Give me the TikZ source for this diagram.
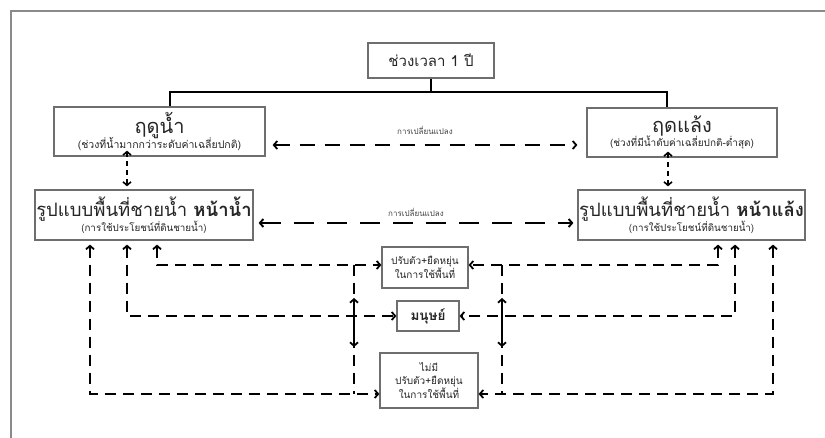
\documentclass[tikz,border=0pt]{standalone}
\usepackage{fontspec}
\newfontfamily\thai[Script=Thai]{Loma}
\usetikzlibrary{arrows.meta}
\definecolor{boxgray}{HTML}{6E6E6E}
\definecolor{framegray}{HTML}{8A8A8A}
\tikzset{
  box/.style={draw=boxgray,line width=1.2pt,fill=white,inner sep=0pt,align=center,font=\thai,text=black!85},
  tip/.style={-{Straight Barb[length=3.5pt,width=8pt]}},
  dtip/.style={{Straight Barb[length=3.5pt,width=8pt]}-{Straight Barb[length=3.5pt,width=8pt]}},
  lower/.style={line width=1.8pt,dash pattern=on 11pt off 7pt},
  season/.style={line width=1.8pt,dash pattern=on 15pt off 10pt},
  mainline/.style={line width=1.9pt,dash pattern=on 20pt off 13pt},
  short/.style={line width=1.6pt,dash pattern=on 5pt off 4pt},
  lbl/.style={font=\thai\fontsize{8}{9}\selectfont,text=black!75,inner sep=0pt}
}
\begin{document}
\begin{tikzpicture}[x=1pt,y=-1pt]
\useasboundingbox (0,0) rectangle (825,438);
% frame
\draw[framegray,line width=2pt] (11,438) -- (11,11) -- (825,11);
% nodes
\node[box,minimum width=126pt,minimum height=35pt,font=\thai\fontsize{15}{17}\selectfont] (top) at (431,60.5) {ช่วงเวลา 1 ปี};
\node[box,minimum width=211pt,minimum height=49pt] (wet) at (159.5,131.5)
  {{\fontsize{20}{20}\selectfont ฤดูน้ำ}\\[-2pt]{\fontsize{10.5}{11}\selectfont (ช่วงที่น้ำมากกว่าระดับค่าเฉลี่ยปกติ)}};
\node[box,minimum width=190pt,minimum height=49pt] (dry) at (682,132.5)
  {{\fontsize{20}{20}\selectfont ฤดแล้ง}\\[-2pt]{\fontsize{10}{11}\selectfont (ช่วงที่มีน้ำดับค่าเฉลี่ยปกติ-ต่ำสุด)}};
\node[box,minimum width=218pt,minimum height=50pt] (wetM) at (144,215)
  {{\fontsize{18.5}{19}\selectfont รูปแบบพื้นที่ชายน้ำ \textbf{หน้าน้ำ}}\\[-1pt]{\fontsize{9.8}{11}\selectfont (การใช้ประโยชน์ที่ดินชายน้ำ)}};
\node[box,minimum width=227pt,minimum height=50pt] (dryM) at (691.5,215)
  {{\fontsize{18.5}{19}\selectfont รูปแบบพื้นที่ชายน้ำ \textbf{หน้าแล้ง}}\\[-1pt]{\fontsize{9.8}{11}\selectfont (การใช้ประโยชน์ที่ดินชายน้ำ)}};
\node[box,minimum width=86pt,minimum height=41pt,font=\thai\fontsize{10}{13}\selectfont] (adapt) at (425,267.5)
  {ปรับตัว+ยืดหยุ่น\\ในการใช้พื้นที่};
\node[box,minimum width=62pt,minimum height=30pt,font=\thai\bfseries\fontsize{13.5}{15}\selectfont] (human) at (428,316) {มนุษย์};
\node[box,minimum width=98pt,minimum height=55pt,font=\thai\fontsize{10}{13}\selectfont] (noadapt) at (429,380.5)
  {ไม่มี\\ปรับตัว+ยืดหยุ่น\\ในการใช้พื้นที่};
% tree
\coordinate (tj) at (431,92);
\draw[black,line width=1.2pt] (top.south) -- (tj);
\draw[black,line width=1.2pt] (wet.north -| 170,0) |- (tj) -| (dry.north -| 667,0);
% season change
\draw[season,dtip] ([xshift=7pt,yshift=-13.5pt]wet.east) -- ([xshift=-9pt,yshift=-12.5pt]dry.west)
  node[lbl,midway,above=10pt] {การเปลี่ยนแปลง};
% main change
\draw[mainline,dtip] ([xshift=5pt,yshift=-8pt]wetM.east) -- ([xshift=-4pt,yshift=-8pt]dryM.west)
  node[lbl,midway,above=6pt] {การเปลี่ยนแปลง};
% short verticals
\draw[short,dtip] ([xshift=-32.5pt,yshift=6pt]wet.south) -- ([xshift=-17pt,yshift=3pt]wetM.north);
\draw[short,dtip] ([xshift=-14pt,yshift=6pt]dry.south) -- ([xshift=-23.5pt,yshift=3pt]dryM.north);
% left connectors
\draw[lower,dtip] ([xshift=13pt,yshift=-4pt]wetM.south) |- ([yshift=2.5pt]adapt.west);
\draw[lower,dtip] ([xshift=-17pt,yshift=-4pt]wetM.south) |- (human.west);
\draw[lower,dtip] ([xshift=-54pt,yshift=-4pt]wetM.south) |- ([yshift=-13.5pt]noadapt.west);
% right connectors
\draw[lower,dtip] ([xshift=26.5pt,yshift=-4pt]dryM.south) |- ([yshift=2.5pt]adapt.east);
\draw[lower,dtip] ([xshift=43.5pt,yshift=-4pt]dryM.south) |- (human.east);
\draw[lower,dtip] ([xshift=81.5pt,yshift=-4pt]dryM.south) |- ([yshift=-13.5pt]noadapt.east);
% verticals between branches
\foreach \vx/\nm in {354/L,502/R}{
  \coordinate (v\nm a) at (\vx,265);
  \coordinate (v\nm b) at (\vx,394);
  \coordinate (v\nm m) at (\vx,316);
  \coordinate (v\nm u) at (\vx,298);
  \coordinate (v\nm d) at (\vx,347);
  \draw[lower] (v\nm a) -- (v\nm b);
  \draw[line width=1.8pt,tip] (v\nm m) -- (v\nm u);
  \draw[line width=1.8pt,tip] (v\nm m) -- (v\nm d);
}
\end{tikzpicture}
\end{document}
